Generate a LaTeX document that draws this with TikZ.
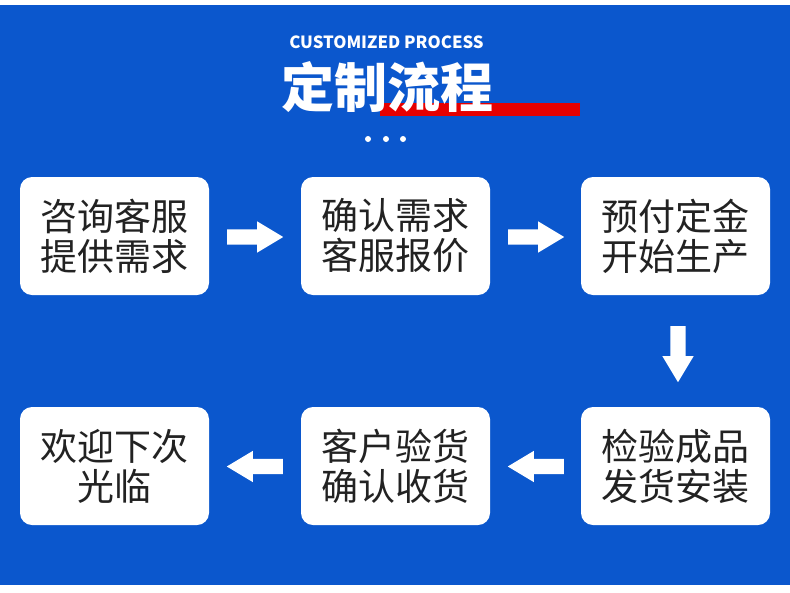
\documentclass[tikz,border=0pt]{standalone}
\usepackage{fontspec}
\newfontfamily\cjk{Noto Sans CJK SC}
\usetikzlibrary{shapes.arrows,calc}
\definecolor{bgblue}{RGB}{11,87,205}
\definecolor{barred}{RGB}{230,0,0}
\definecolor{textdark}{RGB}{34,34,34}
\begin{document}
\begin{tikzpicture}[x=1pt,y=-1pt,
  stepbox/.style={fill=white, rounded corners=12pt, minimum width=189pt, minimum height=118pt,
    inner sep=0pt, align=center, text=textdark, font=\cjk\fontsize{37}{40}\selectfont},
  blockarrow/.style={single arrow, fill=white, draw=none, minimum height=56pt, minimum width=0pt,
    inner sep=7.5pt, text height=0pt, text depth=0pt, text width=0pt, single arrow head extend=8pt,
    single arrow tip angle=62, outer sep=0pt, anchor=tail},
  dot/.style={circle, fill=white, minimum size=6pt, inner sep=0pt}]
\useasboundingbox (0,0) rectangle (790,592);
\fill[white] (0,0) rectangle (790,592);
\fill[bgblue] (0,5) rectangle (790,585);
% title
\fill[barred] (380,103) rectangle (580,116);
\node[text=white, font=\cjk\bfseries\fontsize{16.8}{17}\selectfont] (sub) at (386.5,42) {CUSTOMIZED PROCESS};
\node[text=white, font=\cjk\bfseries\fontsize{53}{53}\selectfont] (title) at (387,87) {定制流程};
\node[dot] (d1) at (368,139) {};
\node[dot] (d2) at (386,139) {};
\node[dot] (d3) at (403,139) {};
% boxes
\node[stepbox] (b1) at (114.5,236) {咨询客服\\提供需求};
\node[stepbox] (b2) at (395.5,236) {确认需求\\客服报价};
\node[stepbox] (b3) at (675.5,236) {预付定金\\开始生产};
\node[stepbox] (b6) at (675.5,466) {检验成品\\发货安装};
\node[stepbox] (b5) at (395.5,466) {客户验货\\确认收货};
\node[stepbox] (b4) at (114.5,466) {欢迎下次\\光临};
% arrows
\node[blockarrow] (a1) at ($(b1.east)+(18,1)$) {};
\node[blockarrow] (a2) at ($(b2.east)+(18,1)$) {};
\node[blockarrow, shape border rotate=270] (a3) at ($(b3.south)+(2.5,31)$) {};
\node[blockarrow, shape border rotate=180] (a4) at ($(b6.west)+(-17,0.5)$) {};
\node[blockarrow, shape border rotate=180] (a5) at ($(b5.west)+(-18,0.5)$) {};
\end{tikzpicture}
\end{document}
